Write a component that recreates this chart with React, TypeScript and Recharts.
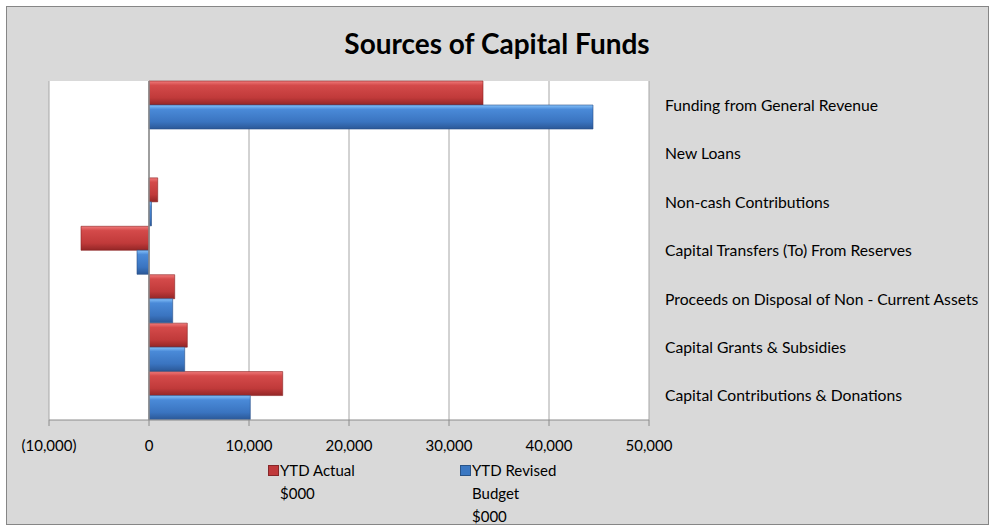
import { BarChart, Bar, XAxis, YAxis, CartesianGrid, ReferenceLine } from "recharts";

const categories = [
  "Funding from General Revenue",
  "New Loans",
  "Non-cash Contributions",
  "Capital Transfers (To) From Reserves",
  "Proceeds on Disposal of Non - Current Assets",
  "Capital Grants & Subsidies",
  "Capital Contributions & Donations",
];
const ytdActual = [33400, 0, 870, -6800, 2570, 3830, 13370];
const ytdBudget = [44400, 0, 250, -1200, 2370, 3570, 10130];
const xTicks = [-10000, 0, 10000, 20000, 30000, 40000, 50000];
const legendLines = [
  ["YTD Actual", "$000"],
  ["YTD Revised", "Budget", "$000"],
];

const data = categories.map((name, i) => ({ name, actual: ytdActual[i], budget: ytdBudget[i] }));

const FONT = "Lato, 'Open Sans', sans-serif";

const fmt = (v: number) =>
  v < 0 ? `(${Math.abs(v).toLocaleString("en-US")})` : v.toLocaleString("en-US");

const legendItems = [
  { lines: legendLines[0], color: "#c0393b", left: 268 },
  { lines: legendLines[1], color: "#3a77c2", left: 460 },
];

const ChartLegend = () => (
  <div style={{ position: "absolute", left: 0, top: 459, fontFamily: FONT, fontSize: 15, color: "#000" }}>
    {legendItems.map((item) => (
      <div key={item.lines[0]} style={{ position: "absolute", left: item.left, top: 0 }}>
        <span
          style={{
            position: "absolute",
            left: 0,
            top: 6,
            width: 9,
            height: 9,
            background: item.color,
            border: "1px solid rgba(0,0,0,0.3)",
          }}
        />
        <div style={{ position: "absolute", left: 12, top: 0, lineHeight: "23px", whiteSpace: "nowrap" }}>
          {item.lines.map((l) => (
            <div key={l}>{l}</div>
          ))}
        </div>
      </div>
    ))}
  </div>
);

export default function App() {
  return (
    <div style={{ position: "absolute", left: 0, top: 0, width: 992, height: 532 }}>
      <div
        style={{
          position: "absolute",
          left: 6,
          top: 6,
          width: 981,
          height: 517,
          background: "#d9d9d9",
          border: "1px solid #868686",
        }}
      />
      <div
        style={{
          position: "absolute",
          left: 0,
          top: 26,
          width: 994,
          textAlign: "center",
          fontFamily: FONT,
          fontWeight: 700,
          fontSize: 28,
          color: "#000",
        }}
      >
        Sources of Capital Funds
      </div>
      <div style={{ position: "absolute", left: 0, top: 0 }}>
        <BarChart
          width={992}
          height={532}
          data={data}
          layout="vertical"
          margin={{ top: 81, right: 3, bottom: 72, left: 49 }}
          barCategoryGap={0}
          barGap={0}
        >
          <defs>
            <linearGradient id="gRed" x1="0" y1="0" x2="0" y2="1">
              <stop offset="0%" stopColor="#f07a7a" />
              <stop offset="18%" stopColor="#d44a4a" />
              <stop offset="70%" stopColor="#c03a3a" />
              <stop offset="100%" stopColor="#932626" />
            </linearGradient>
            <linearGradient id="gBlue" x1="0" y1="0" x2="0" y2="1">
              <stop offset="0%" stopColor="#86c2fa" />
              <stop offset="18%" stopColor="#4a8ad8" />
              <stop offset="70%" stopColor="#3a74c0" />
              <stop offset="100%" stopColor="#2b5897" />
            </linearGradient>
          </defs>
          <CartesianGrid fill="#ffffff" horizontal={false} stroke="#a6a6a6" strokeWidth={1} />
          <XAxis
            type="number"
            domain={[-10000, 50000]}
            ticks={xTicks}
            tickFormatter={fmt}
            height={40}
            tickSize={6}
            tickMargin={14}
            stroke="#8c8c8c"
            tick={{ fill: "#000", fontSize: 15, fontFamily: FONT }}
          />
          <YAxis
            type="category"
            dataKey="name"
            orientation="right"
            width={340}
            axisLine={false}
            tickLine={false}
            tickSize={8}
            tickMargin={8}
            tick={{ fill: "#000", fontSize: 15.7, fontFamily: FONT, textAnchor: "start" }}
          />
          <ReferenceLine x={0} stroke="#8c8c8c" strokeWidth={1.5} />
          <Bar dataKey="actual" name="YTD Actual $000" fill="url(#gRed)" stroke="#8a2222" strokeWidth={0.6} isAnimationActive={false} />
          <Bar dataKey="budget" name="YTD Revised Budget $000" fill="url(#gBlue)" stroke="#294f86" strokeWidth={0.6} isAnimationActive={false} />
        </BarChart>
      </div>
      <ChartLegend />
    </div>
  );
}
